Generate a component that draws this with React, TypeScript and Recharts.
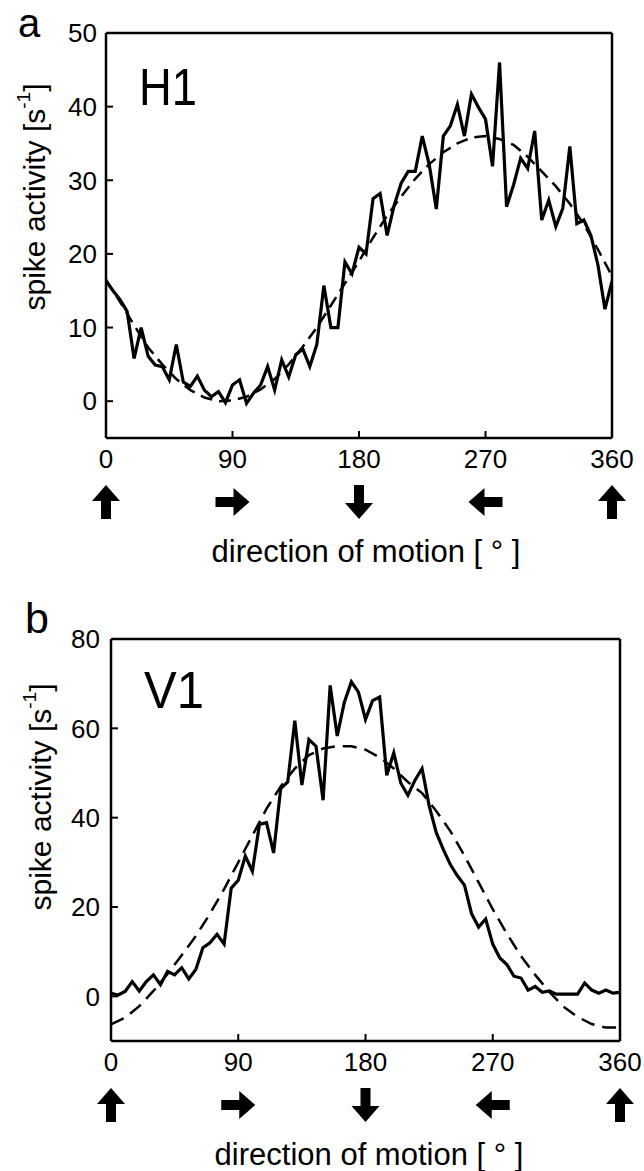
import React from 'react';
import { LineChart, Line, XAxis, YAxis } from 'recharts';

const FONT = '"Liberation Sans", Arial, Helvetica, sans-serif';

// x categories (direction of motion, degrees)
const DIR_TICKS = [0, 90, 180, 270, 360];
const DIR_ARROWS = ['up', 'right', 'down', 'left', 'up'];
const H1_TICKS = [0, 10, 20, 30, 40, 50];
const V1_TICKS = [0, 20, 40, 60, 80];

const DEG_5 = [
  0, 5, 10, 15, 20, 25, 30, 35, 40, 45, 50, 55, 60, 65, 70, 75, 80, 85, 90, 95,
  100, 105, 110, 115, 120, 125, 130, 135, 140, 145, 150, 155, 160, 165, 170, 175,
  180, 185, 190, 195, 200, 205, 210, 215, 220, 225, 230, 235, 240, 245, 250, 255,
  260, 265, 270, 275, 280, 285, 290, 295, 300, 305, 310, 315, 320, 325, 330, 335,
  340, 345, 350, 355, 360,
];
const DEG_10 = [
  0, 10, 20, 30, 40, 50, 60, 70, 80, 90, 100, 110, 120, 130, 140, 150, 160, 170,
  180, 190, 200, 210, 220, 230, 240, 250, 260, 270, 280, 290, 300, 310, 320, 330,
  340, 350, 360,
];

// H1 measured spike activity (s-1)
const H1_RATE = [
  16.3, 15.0, 13.8, 12.2, 5.8, 10.0, 6.1, 4.9, 4.7, 2.9, 7.7, 2.6, 2.0, 3.4, 1.5, 0.6,
  1.3, -0.2, 2.2, 2.9, -0.3, 1.1, 2.2, 4.7, 1.5, 5.6, 3.3, 6.3, 7.1, 4.7, 7.7, 15.7,
  10.0, 10.0, 18.9, 17.3, 20.9, 20.0, 27.5, 28.2, 22.5, 26.6, 29.6, 31.2, 31.2, 36.0,
  32.1, 26.1, 36.0, 37.4, 40.3, 36.0, 41.7, 39.9, 38.3, 31.9, 46.0, 26.4, 29.4, 33.0,
  31.6, 36.7, 24.6, 27.3, 23.7, 26.2, 34.6, 24.1, 24.6, 22.5, 18.5, 12.5, 16.3,
];
// H1 fitted curve
const H1_FIT = [
  16.5, 13.5, 10.3, 7.3, 5.0, 3.0, 1.5, 0.5, 0.0, 0.1, 0.6, 1.6, 3.0, 5.0, 7.4, 10.0,
  13.0, 16.0, 19.0, 22.2, 25.2, 27.8, 30.2, 32.2, 33.8, 35.0, 35.8, 36.0, 35.6, 34.8,
  33.2, 31.2, 29.2, 26.8, 24.0, 20.6, 17.0,
];

// V1 measured spike activity (s-1)
const V1_RATE = [
  0.7, 0.3, 1.1, 3.3, 1.2, 3.3, 4.8, 2.6, 5.6, 4.8, 6.4, 3.9, 6.0, 10.9, 12.0, 13.9,
  11.7, 24.2, 26.0, 31.4, 28.0, 38.5, 38.9, 32.1, 46.5, 48.0, 61.7, 47.3, 57.5, 56.0,
  43.9, 69.6, 58.3, 65.8, 70.4, 68.1, 62.0, 66.2, 67.0, 49.5, 54.5, 47.7, 45.0, 48.4,
  51.0, 42.7, 36.7, 32.9, 29.5, 27.0, 24.9, 18.5, 15.5, 17.3, 11.7, 8.6, 7.1, 4.5, 4.1,
  1.4, 2.2, 0.9, 1.2, 0.5, 0.5, 0.5, 0.5, 3.0, 1.4, 0.7, 1.4, 0.7, 0.9,
];
// V1 fitted curve
const V1_FIT = [
  -6.3, -4.8, -2.2, 1.2, 5.0, 9.2, 13.5, 18.5, 24.0, 30.0, 36.0, 42.0, 47.0, 51.0,
  54.0, 55.5, 56.0, 56.0, 55.2, 53.5, 51.0, 48.0, 45.5, 41.5, 37.0, 31.5, 25.5, 19.5,
  14.0, 9.0, 4.8, 1.0, -2.3, -4.6, -6.2, -7.0, -7.0,
];

const zip = (xs: number[], ys: number[]) => xs.map((d, i) => ({ deg: d, v: ys[i] }));

const ARROW_PATH = 'M0,-17 L14,-1 L5,-1 L5,17 L-5,17 L-5,-1 L-14,-1 Z';
const ROT: Record<string, number> = { up: 0, right: 90, down: 180, left: -90 };

const XTick = (props: any) => {
  const { x, y, payload } = props;
  const idx = DIR_TICKS.indexOf(payload.value);
  const dir = DIR_ARROWS[idx] || 'up';
  return (
    <g>
      <text x={x} y={y + 30} textAnchor="middle" fontSize={26} fontFamily={FONT} fill="#000">
        {payload.value}
      </text>
      <path d={ARROW_PATH} transform={`translate(${x},${y + 64}) rotate(${ROT[dir]})`} fill="#000" />
    </g>
  );
};

const AX = { stroke: '#000', strokeWidth: 2.5 };
const TL = { stroke: '#000', strokeWidth: 2 };

function Panel(p: {
  top: number; height: number;
  plot: { left: number; right: number; top: number; bottom: number };
  rate: { deg: number; v: number }[]; fit: { deg: number; v: number }[];
  yDomain: [number, number]; yTicks: number[]; yGap: number; dash: string;
}) {
  const W = 644;
  const margin = { top: p.plot.top - 1, right: W - p.plot.right - 1, bottom: 0, left: 0 };
  return (
    <div style={{ position: 'absolute', left: 0, top: p.top, width: W, height: p.height }}>
      <LineChart width={W} height={p.height} margin={margin}>
        <XAxis xAxisId="b" type="number" dataKey="deg" domain={[0, 360]} ticks={DIR_TICKS}
          interval={0} height={p.height - p.plot.bottom} tickSize={-7} tickMargin={7}
          tick={<XTick />} axisLine={AX} tickLine={TL} allowDataOverflow />
        <XAxis xAxisId="t" orientation="top" type="number" dataKey="deg" domain={[0, 360]}
          ticks={DIR_TICKS} interval={0} height={1} tickSize={-7} tick={false}
          axisLine={AX} tickLine={TL} allowDataOverflow />
        <YAxis yAxisId="l" type="number" domain={p.yDomain} ticks={p.yTicks} interval={0}
          width={p.plot.left} tickSize={-7} tickMargin={7 + p.yGap}
          tick={{ fontSize: 26, fill: '#000', fontFamily: FONT }}
          axisLine={AX} tickLine={TL} allowDataOverflow />
        <YAxis yAxisId="r" orientation="right" type="number" domain={p.yDomain} ticks={p.yTicks}
          interval={0} width={1} tickSize={-7} tick={false} axisLine={AX} tickLine={TL}
          allowDataOverflow />
        <Line xAxisId="b" yAxisId="l" data={p.fit} dataKey="v" type="linear" stroke="#000"
          strokeWidth={2.5} strokeDasharray={p.dash} dot={false} isAnimationActive={false} />
        <Line xAxisId="b" yAxisId="l" data={p.rate} dataKey="v" type="linear" stroke="#000"
          strokeWidth={3.2} dot={false} isAnimationActive={false} strokeLinejoin="miter" />
      </LineChart>
    </div>
  );
}

function YLabel({ x, y }: { x: number; y: number }) {
  return (
    <text x={x} y={y} transform={`rotate(-90, ${x}, ${y})`} textAnchor="middle"
      dominantBaseline="central" fontSize={30} fontFamily={FONT} fill="#000">
      spike activity [s<tspan dy={-11} fontSize={19}>-1</tspan><tspan dy={11}>]</tspan>
    </text>
  );
}

export default function App() {
  return (
    <div style={{ position: 'absolute', left: 0, top: 0, width: 644, height: 1171, background: '#fff' }}>
      <Panel top={0} height={580} plot={{ left: 106, right: 612, top: 33, bottom: 438 }}
        rate={zip(DEG_5, H1_RATE)} fit={zip(DEG_10, H1_FIT)} yDomain={[-5, 50]}
        yTicks={H1_TICKS} yGap={9} dash="12 7" />
      <Panel top={590} height={581} plot={{ left: 111, right: 620, top: 49, bottom: 451 }}
        rate={zip(DEG_5, V1_RATE)} fit={zip(DEG_10, V1_FIT)} yDomain={[-10, 80]}
        yTicks={V1_TICKS} yGap={11} dash="14 8" />
      <svg width={644} height={1171} style={{ position: 'absolute', left: 0, top: 0, pointerEvents: 'none' }}>
        <text x={18} y={36.5} fontSize={40} fontFamily={FONT} fill="#000">a</text>
        <text x={139} y={105} fontSize={52} fontFamily={FONT} fill="#000" textLength={58} lengthAdjust="spacingAndGlyphs">H1</text>
        <YLabel x={34} y={197} />
        <text x={366} y={562} textAnchor="middle" fontSize={31} fontFamily={FONT} fill="#000">direction of motion [ ° ]</text>
        <text x={25} y={633} fontSize={43} fontFamily={FONT} fill="#000">b</text>
        <text x={144} y={708} fontSize={52} fontFamily={FONT} fill="#000" textLength={60} lengthAdjust="spacingAndGlyphs">V1</text>
        <YLabel x={40} y={797} />
        <text x={369} y={1165} textAnchor="middle" fontSize={31} fontFamily={FONT} fill="#000">direction of motion [ ° ]</text>
      </svg>
    </div>
  );
}
